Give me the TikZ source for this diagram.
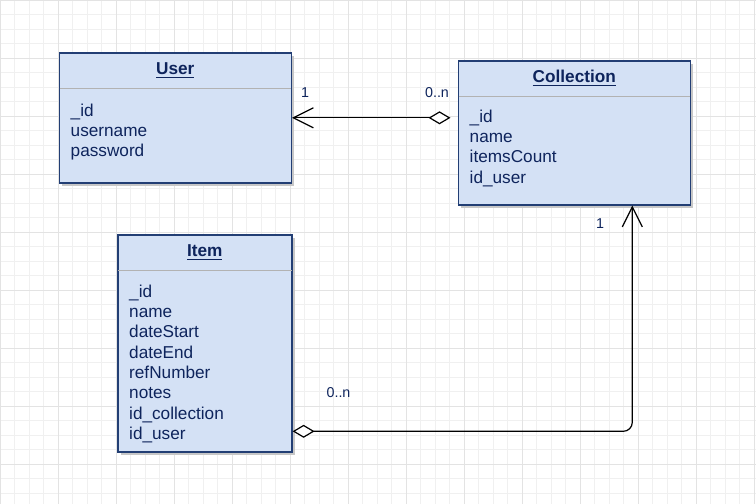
\documentclass[tikz,border=0pt]{standalone}
\usepackage{fontspec}
\setmainfont{Liberation Sans}
\usetikzlibrary{arrows.meta,shadows}
\definecolor{boxfill}{RGB}{212,225,245}
\definecolor{boxline}{RGB}{34,62,116}
\definecolor{boxtext}{RGB}{14,36,92}
\newcommand{\ultitle}[1]{\setbox0\hbox{#1}\rlap{\vrule width\wd0 height -2.2pt depth 3.5pt}\box0}
\tikzset{
  classbox/.style={rectangle, draw=boxline, line width=1.6pt, fill=boxfill,
    inner sep=0pt, anchor=north west,
    drop shadow={shadow xshift=3pt, shadow yshift=-3pt, opacity=1, fill=black!22}},
  classname/.style={anchor=base, inner sep=0pt, text=boxtext,
    font=\bfseries\fontsize{17.2}{20}\selectfont},
  attr/.style={anchor=base west, inner sep=0pt, text=boxtext,
    font=\fontsize{17.2}{20}\selectfont},
  sepline/.style={draw=black!30, line width=1.3pt},
  mult/.style={inner sep=0pt, text=boxtext, font=\fontsize{14.3}{16}\selectfont},
  assoc/.style={draw=black, line width=1.2pt,
    arrows={Diamond[open,fill=white,length=22pt,width=13pt]-Straight Barb[length=20pt,width=20pt]}},
  minorgrid/.style={draw=black!6, line width=.8pt},
  majorgrid/.style={draw=black!11, line width=.8pt}
}

\begin{document}
\begin{tikzpicture}[x=1pt,y=-1pt]
      \useasboundingbox (0,0) rectangle (756,504);
      %% background grid
      \foreach \i in {0,...,52}
      { \draw[minorgrid] (\i*14.5,0) -- (\i*14.5,504);}
      \foreach \j in {0,...,34}
      { \draw[minorgrid] (0,\j*14.5) -- (756,\j*14.5);}
      \foreach \i in {0,...,13}
      { \draw[majorgrid] (\i*58,0) -- (\i*58,504);}
      \foreach \j in {0,...,8}
      { \draw[majorgrid] (0,\j*58) -- (756,\j*58);}

      %% the three classes
      \node[classbox, minimum width=232pt, minimum height=130pt] (user) at (58.5,52) {};
      \node[classbox, minimum width=232pt, minimum height=144pt] (coll) at (457.5,60) {};
      \node[classbox, minimum width=174pt, minimum height=217pt] (item) at (117,234) {};

      \node[classname] (usert) at ([shift={(0,22.5)}]user.north) {\ultitle{User}};
      \node[classname] (collt) at ([shift={(0,22.5)}]coll.north) {\ultitle{Collection}};
      \node[classname] (itemt) at ([shift={(0,22.5)}]item.north) {\ultitle{Item}};

      \draw[sepline] ([shift={(1,36.5)}]user.north west) -- ([shift={(-1,36.5)}]user.north east);
      \draw[sepline] ([shift={(1,36.5)}]coll.north west) -- ([shift={(-1,36.5)}]coll.north east);
      \draw[sepline] ([shift={(1,36.5)}]item.north west) -- ([shift={(-1,36.5)}]item.north east);

      \foreach \a [count=\i] in {\_id,username,password}
      { \node[attr] (u\i) at ([shift={(12,44+20.3*\i)}]user.north west) {\a};}
      \foreach \a [count=\i] in {\_id,name,itemsCount,id\_user}
      { \node[attr] (c\i) at ([shift={(12,42+20.3*\i)}]coll.north west) {\a};}
      \foreach \a [count=\i] in {\_id,name,dateStart,dateEnd,refNumber,notes,id\_collection,id\_user}
      { \node[attr] (i\i) at ([shift={(12,43+20.3*\i)}]item.north west) {\a};}

      %% associations
      \draw[assoc, shorten <=7pt] (coll.west |- user.east) -- (user.east);
      \draw[assoc, rounded corners=9pt] ([shift={(0,88)}]item.east) -| ([shift={(58,0)}]coll.south);

      \node[mult] (m1) at (305,93) {1};
      \node[mult] (m2) at (437,93) {0..n};
      \node[mult] (m3) at (600,224) {1};
      \node[mult] (m4) at (338.5,392.7) {0..n};
\end{tikzpicture}
\end{document}
